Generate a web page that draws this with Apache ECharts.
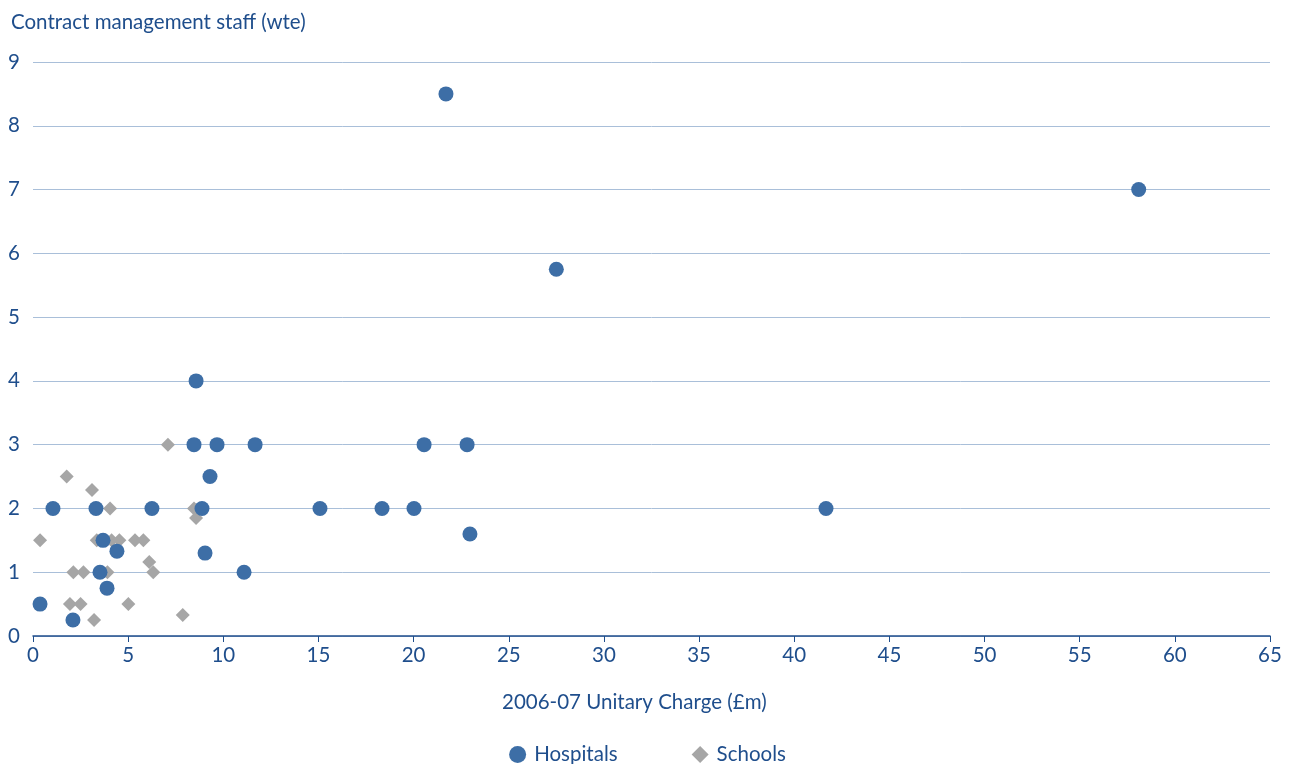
<!DOCTYPE html>
<html><head><meta charset="utf-8">
<script src="https://cdn.jsdelivr.net/npm/echarts@6/dist/echarts.min.js"></script>
<style>html,body{margin:0;padding:0;background:#fff}#c{width:1295px;height:764px}</style>
</head><body><div id="c"></div>
<script>
const hospitalsX = [21.7, 58.1, 27.5, 8.57, 8.46, 9.67, 11.67, 20.55, 22.81, 9.3, 1.05, 3.31, 6.25, 8.88, 15.08, 18.34, 20.02, 41.67, 22.96, 3.68, 4.41, 9.04, 3.52, 11.09, 3.89, 0.37, 2.1];
const hospitalsY = [8.5, 7.0, 5.75, 4, 3, 3, 3, 3, 3, 2.5, 2, 2, 2, 2, 2, 2, 2, 2, 1.6, 1.5, 1.33, 1.3, 1.0, 1.0, 0.75, 0.5, 0.25];
const schoolsX = [1.77, 3.1, 4.05, 0.37, 3.35, 4.13, 4.54, 5.36, 5.8, 6.11, 6.32, 2.12, 2.65, 3.91, 1.94, 2.5, 5.01, 3.21, 7.09, 8.46, 8.57, 7.87];
const schoolsY = [2.5, 2.29, 2, 1.5, 1.5, 1.5, 1.5, 1.5, 1.5, 1.16, 1.0, 1.0, 1.0, 1.0, 0.5, 0.5, 0.5, 0.25, 3, 2, 1.85, 0.33];
const seriesNames = ['Hospitals', 'Schools'];
const yTitle = 'Contract management staff (wte)';
const xTitle = '2006-07 Unitary Charge (£m)';

const txt = '#1f4e8c';
const font = 'Lato, "Open Sans", sans-serif';
const chart = echarts.init(document.getElementById('c'));
chart.setOption({
  animation: false,
  textStyle: {fontFamily: font, color: txt},
  title: [
    {text: yTitle, left: 6, top: 7, textStyle: {fontSize: 20.5, fontWeight: 'normal', color: txt, fontFamily: font}},
    {text: xTitle, left: 497, top: 687, textStyle: {fontSize: 20.5, fontWeight: 'normal', color: txt, fontFamily: font}}
  ],
  legend: {
    data: [{name: seriesNames[0], icon: 'circle'}, {name: seriesNames[1], icon: 'diamond'}],
    left: 'center', top: 739, itemWidth: 17, itemHeight: 17, itemGap: 74,
    textStyle: {fontSize: 20.5, color: txt, fontFamily: font, padding: [0, 0, 0, 3]},
    padding: [5, 10]
  },
  grid: {left: 33, right: 25, top: 62, bottom: 128, containLabel: false},
  xAxis: {
    type: 'value', min: 0, max: 65, interval: 5,
    axisLine: {show: true, lineStyle: {color: txt, width: 1.5}},
    axisTick: {show: true, length: 6, lineStyle: {color: txt}},
    axisLabel: {fontSize: 20.5, color: txt, margin: 9, fontFamily: font},
    splitLine: {show: false}
  },
  yAxis: {
    type: 'value', min: 0, max: 9, interval: 1,
    axisLine: {show: false}, axisTick: {show: false},
    axisLabel: {fontSize: 20.5, color: txt, margin: 13, align: 'right', fontFamily: font},
    splitLine: {show: true, lineStyle: {color: '#a9bfd9', width: 1}}
  },
  series: [
    {name: seriesNames[0], type: 'scatter', symbol: 'circle', symbolSize: 15,
     itemStyle: {color: '#3d6ea6', opacity: 1},
     data: hospitalsX.map((x, i) => [x, hospitalsY[i]]), z: 3},
    {name: seriesNames[1], type: 'scatter', symbol: 'diamond', symbolSize: 14,
     itemStyle: {color: '#a6a6a6', opacity: 1},
     data: schoolsX.map((x, i) => [x, schoolsY[i]]), z: 2}
  ]
});
</script></body></html>
